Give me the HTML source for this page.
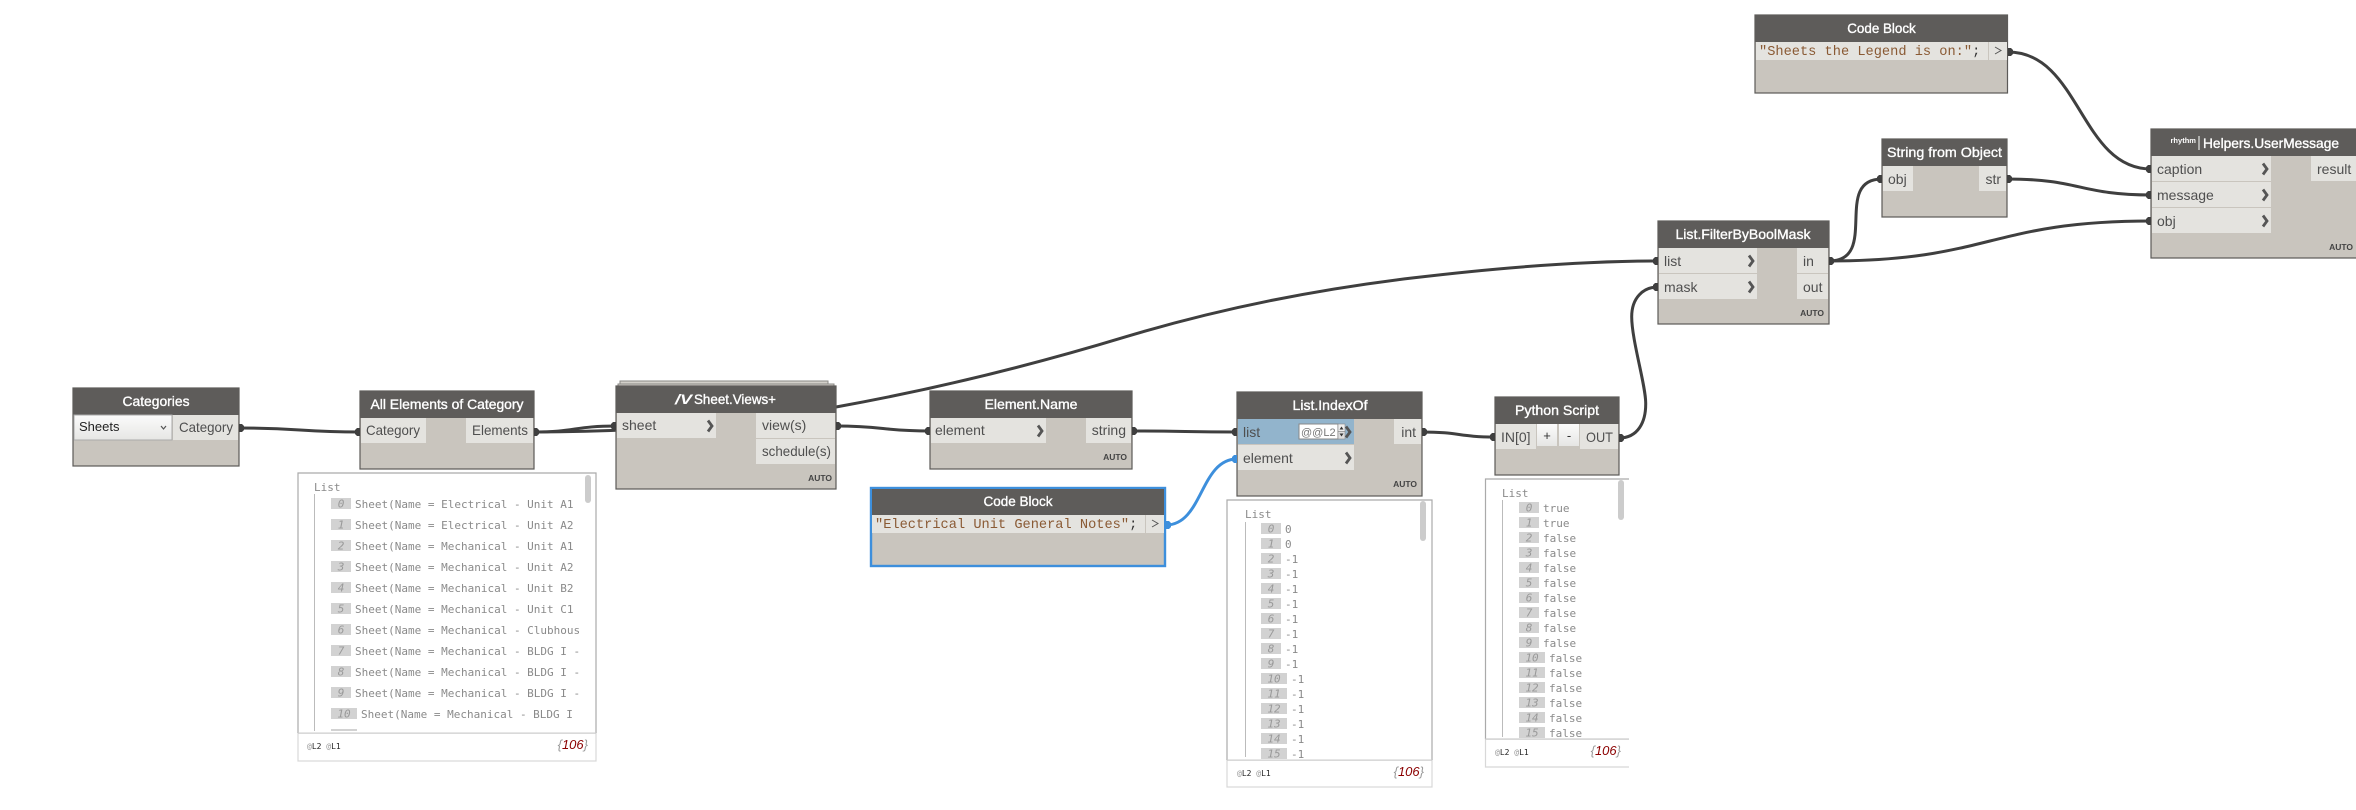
<!DOCTYPE html>
<html><head><meta charset="utf-8"><title>Dynamo graph</title>
<style>
html,body{margin:0;padding:0;background:#fff;width:2356px;height:810px;overflow:hidden}
svg{display:block}
text{font-family:"Liberation Sans",sans-serif}
.h{fill:#fff;stroke:#fff;stroke-width:.35;font-size:14px;text-anchor:middle}
.hs{fill:#fff;stroke:#fff;stroke-width:.35;font-size:14px}
.p{fill:#4f4f4f;font-size:14px}
.r{fill:#4f4f4f;font-size:14px;text-anchor:end}
.a{fill:#444;font-size:8.5px;font-weight:bold;text-anchor:end}
.n{fill:#c9c5be;stroke:#5c5a58;stroke-width:1.2}
.t{fill:#5e5c5a}
.q{fill:#e4e3df}
.c{fill:none;stroke:#555;stroke-width:2.8}
.w{fill:none;stroke:#3f3f3f;stroke-width:3}
.d{fill:#3f3f3f}
.m,.i,.l{font-family:"DejaVu Sans Mono",monospace;font-size:11px;fill:#8a8a8a}
.i{font-style:italic;text-anchor:middle;fill:#999}
.b{fill:#d2d2d2}
.code{font-family:"Liberation Mono",monospace;font-size:13.67px;fill:#8a5a34}
.f{font-family:"DejaVu Sans Mono",monospace;font-size:8px;fill:#222}
.f tspan{fill:#999}
.k{font-size:13px;font-style:italic;fill:#999;text-anchor:end}
.k tspan{fill:#8b0000}
.bd{fill:#fff;stroke:#aaa;stroke-width:1.2}
.ln{fill:#ccc}
</style></head><body>
<svg width="2356" height="810" viewBox="0 0 2356 810" xmlns="http://www.w3.org/2000/svg">
<defs><linearGradient id="g" x1="0" y1="0" x2="0" y2="1"><stop offset="0" stop-color="#fbfbfb"/><stop offset="1" stop-color="#e6e6e4"/></linearGradient></defs>

<!-- wires -->
<path class="w" d="M239 428C300 428 300 432 360 432"/>
<path class="w" d="M534 432C575 432 575 426 616 426"/>
<path class="w" d="M534 432C635 432 736 425 836 407C932.700 389.600 1029.300 366 1126 336.700C1221.300 308.100 1316.700 289.400 1412 278C1494 268.200 1576 261 1658 261"/>
<path class="w" d="M836 426C883 426 883 431 930 431"/>
<path class="w" d="M1132 431C1185 431 1185 432 1237 432"/>
<path class="w" d="M1422 432C1460 432 1458 437 1495 437"/>
<path class="w" d="M1619 438C1638 438 1646 422 1645.700 403C1645.700 385 1631.700 340 1631.700 316.700C1631.700 298 1643 287 1658 287"/>
<path class="w" d="M1829 261C1880 261 1832 179 1882 179"/>
<path class="w" d="M1829 261C1990 261 1990 221 2151 221"/>
<path class="w" d="M2007 179C2080 179 2080 195 2151 195"/>
<path class="w" d="M2008 52C2080 52 2080 169 2151 169"/>
<path d="M1166 525C1203 525 1200 459 1237 459" fill="none" stroke="#3d8fdc" stroke-width="3"/>

<!-- Categories -->
<rect class="n" x="73" y="388" width="166" height="78"/><rect class="t" x="73" y="388" width="166" height="27"/>
<text class="h" x="156" y="406" textLength="67" lengthAdjust="spacingAndGlyphs">Categories</text>
<rect x="74" y="415" width="98" height="25" fill="url(#g)" stroke="#aaa"/>
<text x="79" y="431" font-size="13" fill="#222">Sheets</text>
<polyline points="161,426 163.500,429 166,426" fill="none" stroke="#555" stroke-width="1.200"/>
<rect class="q" x="173" y="415" width="65" height="25"/>
<text class="p" x="179" y="432" textLength="54" lengthAdjust="spacingAndGlyphs">Category</text>

<!-- All Elements -->
<rect class="n" x="360" y="391" width="174" height="78"/><rect class="t" x="360" y="391" width="174" height="27"/>
<text class="h" x="447" y="409" textLength="153" lengthAdjust="spacingAndGlyphs">All Elements of Category</text>
<rect class="q" x="361" y="418" width="65" height="25"/><rect class="q" x="466" y="418" width="67" height="25"/>
<text class="p" x="366" y="435" textLength="54" lengthAdjust="spacingAndGlyphs">Category</text>
<text class="p" x="472" y="435" textLength="56" lengthAdjust="spacingAndGlyphs">Elements</text>

<!-- Sheet.Views+ -->
<rect x="620" y="381" width="208" height="8" fill="#d3d0ca" stroke="#8a8884" stroke-width="1"/>
<rect x="618" y="384" width="216" height="6" fill="#d3d0ca" stroke="#8a8884" stroke-width="1"/>
<rect class="n" x="616" y="386" width="220" height="103"/><rect class="t" x="616" y="386" width="220" height="27"/>
<text x="675" y="404" fill="#fff" font-size="14" font-weight="bold" font-style="italic" textLength="17" lengthAdjust="spacingAndGlyphs">/V</text>
<text class="hs" x="694" y="404" textLength="82" lengthAdjust="spacingAndGlyphs">Sheet.Views+</text>
<rect class="q" x="617" y="413" width="99" height="25"/><rect class="q" x="756" y="413" width="79" height="25"/><rect class="q" x="756" y="439" width="79" height="25"/>
<text class="p" x="622" y="430">sheet</text><polyline class="c" points="708,420.500 712,426 708,431.500"/>
<text class="p" x="762" y="430">view(s)</text>
<text class="p" x="762" y="456" textLength="69" lengthAdjust="spacingAndGlyphs">schedule(s)</text>
<text class="a" x="832" y="481">AUTO</text>

<!-- Element.Name -->
<rect class="n" x="930" y="391" width="202" height="78"/><rect class="t" x="930" y="391" width="202" height="27"/>
<text class="h" x="1031" y="409" textLength="93" lengthAdjust="spacingAndGlyphs">Element.Name</text>
<rect class="q" x="931" y="418" width="115" height="25"/><rect class="q" x="1086" y="418" width="45" height="25"/>
<text class="p" x="935" y="435">element</text><polyline class="c" points="1038,425.500 1042,431 1038,436.500"/>
<text class="r" x="1126" y="435">string</text>
<text class="a" x="1127" y="460">AUTO</text>

<!-- Code Block selected -->
<rect x="871" y="488" width="294" height="78" fill="#c9c5be" stroke="#3d8fdc" stroke-width="2.400"/>
<rect class="t" x="872" y="489" width="292" height="26"/>
<text class="h" x="1018" y="506" textLength="69" lengthAdjust="spacingAndGlyphs">Code Block</text>
<rect class="q" x="872" y="515" width="273" height="18"/><rect class="q" x="1146" y="515" width="18" height="18"/>
<text class="code" x="875" y="528">"Electrical Unit General Notes"<tspan fill="#333">;</tspan></text>
<polyline points="1152,520 1158,523.500 1152,527" fill="none" stroke="#555" stroke-width="1"/>

<!-- List.IndexOf -->
<rect class="n" x="1237" y="392" width="185" height="104"/><rect class="t" x="1237" y="392" width="185" height="27"/>
<text class="h" x="1330" y="410" textLength="75" lengthAdjust="spacingAndGlyphs">List.IndexOf</text>
<rect x="1238" y="419" width="116" height="25" fill="#92b4cc"/><rect class="q" x="1238" y="445" width="116" height="25"/><rect class="q" x="1394" y="419" width="27" height="25"/>
<text class="p" x="1243" y="437">list</text><text class="p" x="1243" y="463">element</text>
<rect x="1299" y="424" width="39" height="15" fill="#fff" stroke="#888"/>
<text x="1301" y="436" font-size="11" fill="#777">@@L2</text>
<rect x="1338" y="424" width="7" height="7.500" fill="#eee" stroke="#888" stroke-width=".6"/><rect x="1338" y="431.500" width="7" height="7.500" fill="#ddd" stroke="#888" stroke-width=".6"/>
<path d="M1339.500 429.500l2-3 2 3zM1339.500 433.500l2 3 2-3z" fill="#333"/>
<polyline class="c" points="1346,426.500 1350,432 1346,437.500"/><polyline class="c" points="1346,452.500 1350,458 1346,463.500"/>
<text class="r" x="1416" y="437">int</text>
<text class="a" x="1417" y="487">AUTO</text>

<!-- Python Script -->
<rect class="n" x="1495" y="397" width="124" height="78"/><rect class="t" x="1495" y="397" width="124" height="27"/>
<text class="h" x="1557" y="415" textLength="84" lengthAdjust="spacingAndGlyphs">Python Script</text>
<rect class="q" x="1496" y="424" width="40" height="25"/><rect x="1537" y="424" width="20" height="22" fill="url(#g)"/><rect x="1559" y="424" width="20" height="22" fill="url(#g)"/><rect class="q" x="1580" y="424" width="38" height="25"/>
<text class="p" x="1501" y="442">IN[0]</text><text x="1547" y="440" font-size="13" fill="#333" text-anchor="middle">+</text><text x="1569" y="440" font-size="13" fill="#333" text-anchor="middle">-</text>
<text class="p" x="1586" y="442" textLength="27" lengthAdjust="spacingAndGlyphs">OUT</text>

<!-- List.FilterByBoolMask -->
<rect class="n" x="1658" y="221" width="171" height="103"/><rect class="t" x="1658" y="221" width="171" height="27"/>
<text class="h" x="1743" y="239" textLength="135" lengthAdjust="spacingAndGlyphs">List.FilterByBoolMask</text>
<rect class="q" x="1659" y="248" width="98" height="25"/><rect class="q" x="1659" y="274" width="98" height="25"/><rect class="q" x="1797" y="248" width="31" height="25"/><rect class="q" x="1797" y="274" width="31" height="25"/>
<text class="p" x="1664" y="266">list</text><text class="p" x="1664" y="292">mask</text>
<polyline class="c" points="1749,255.500 1753,261 1749,266.500"/><polyline class="c" points="1749,281.500 1753,287 1749,292.500"/>
<text class="p" x="1803" y="266">in</text><text class="p" x="1803" y="292">out</text>
<text class="a" x="1824" y="316">AUTO</text>

<!-- String from Object -->
<rect class="n" x="1882" y="139" width="125" height="78"/><rect class="t" x="1882" y="139" width="125" height="27"/>
<text class="h" x="1944.500" y="157" textLength="115" lengthAdjust="spacingAndGlyphs">String from Object</text>
<rect class="q" x="1883" y="166" width="30" height="25"/><rect class="q" x="1979" y="166" width="27" height="25"/>
<text class="p" x="1888" y="184">obj</text><text class="r" x="2001" y="184">str</text>

<!-- Code Block 2 -->
<rect class="n" x="1755" y="15" width="252.500" height="78"/><rect class="t" x="1755" y="15" width="252.500" height="27"/>
<text class="h" x="1881.500" y="33" textLength="68.500" lengthAdjust="spacingAndGlyphs">Code Block</text>
<rect class="q" x="1756" y="42" width="232" height="18"/><rect class="q" x="1989" y="42" width="18" height="18"/>
<text class="code" x="1759" y="55">"Sheets the Legend is on:"<tspan fill="#333">;</tspan></text>
<polyline points="1995,47 2001,50.500 1995,54" fill="none" stroke="#555" stroke-width="1"/>

<!-- Helpers.UserMessage -->
<rect class="n" x="2151" y="129" width="220" height="129"/><rect class="t" x="2151" y="129" width="220" height="27"/>
<text x="2170.500" y="143" fill="#fff" font-size="7.500" font-weight="bold" textLength="25.500" lengthAdjust="spacingAndGlyphs">rhythm</text>
<rect x="2198.500" y="136" width="1" height="14" fill="#fff"/>
<text class="hs" x="2203" y="148" textLength="136" lengthAdjust="spacingAndGlyphs">Helpers.UserMessage</text>
<rect class="q" x="2152" y="156" width="119" height="25"/><rect class="q" x="2152" y="182" width="119" height="25"/><rect class="q" x="2152" y="208" width="119" height="25"/><rect class="q" x="2311" y="156" width="45" height="25"/>
<text class="p" x="2157" y="174">caption</text><text class="p" x="2157" y="200">message</text><text class="p" x="2157" y="226">obj</text>
<polyline class="c" points="2263,163.500 2267,169 2263,174.500"/><polyline class="c" points="2263,189.500 2267,195 2263,200.500"/><polyline class="c" points="2263,215.500 2267,221 2263,226.500"/>
<text class="p" x="2317" y="174">result</text>
<text class="a" x="2353" y="250">AUTO</text>

<!-- pips -->
<path class="d" d="M239 424h3l2 2v4l-2 2h-3zM360 428h-3l-2 2v4l2 2h3zM534 428h3l2 2v4l-2 2h-3zM616 422h-3l-2 2v4l2 2h3zM836 422h3l2 2v4l-2 2h-3zM930 427h-3l-2 2v4l2 2h3zM1132 427h3l2 2v4l-2 2h-3zM1237 428h-3l-2 2v4l2 2h3zM1422 428h3l2 2v4l-2 2h-3zM1495 433h-3l-2 2v4l2 2h3zM1619 434h3l2 2v4l-2 2h-3zM1658 257h-3l-2 2v4l2 2h3zM1658 283h-3l-2 2v4l2 2h3zM1829 257h3l2 2v4l-2 2h-3zM1882 175h-3l-2 2v4l2 2h3zM2007 175h3l2 2v4l-2 2h-3zM2008 48h3l2 2v4l-2 2h-3zM2151 165h-3l-2 2v4l2 2h3zM2151 191h-3l-2 2v4l2 2h3zM2151 217h-3l-2 2v4l2 2h3z"/>
<path fill="#3d8fdc" d="M1237 455h-3l-2 2v4l2 2h3zM1166 521h3l2 2v4l-2 2h-3z"/>

<!-- Watch 1 -->
<rect x="298" y="733" width="298" height="28" fill="#fff" stroke="#d8d8d8" stroke-width="1.200"/>
<path d="M298 733V473H596V733" fill="#fff" stroke="#aaa" stroke-width="1.200"/>
<rect class="ln" x="298" y="732.500" width="298" height="1.200"/>
<rect x="585" y="475" width="6" height="28" rx="3" fill="#ccc"/>
<text class="l" x="314" y="491">List</text>
<rect x="314" y="494" width="1" height="237" fill="#bbb"/>
<rect class="b" x="331" y="498" width="20" height="11"/><text class="i" x="341" y="507.500">0</text><text class="m" x="355" y="508">Sheet(Name = Electrical - Unit A1</text>
<rect class="b" x="331" y="519" width="20" height="11"/><text class="i" x="341" y="528.500">1</text><text class="m" x="355" y="529">Sheet(Name = Electrical - Unit A2</text>
<rect class="b" x="331" y="540" width="20" height="11"/><text class="i" x="341" y="549.500">2</text><text class="m" x="355" y="550">Sheet(Name = Mechanical - Unit A1</text>
<rect class="b" x="331" y="561" width="20" height="11"/><text class="i" x="341" y="570.500">3</text><text class="m" x="355" y="571">Sheet(Name = Mechanical - Unit A2</text>
<rect class="b" x="331" y="582" width="20" height="11"/><text class="i" x="341" y="591.500">4</text><text class="m" x="355" y="592">Sheet(Name = Mechanical - Unit B2</text>
<rect class="b" x="331" y="603" width="20" height="11"/><text class="i" x="341" y="612.500">5</text><text class="m" x="355" y="613">Sheet(Name = Mechanical - Unit C1</text>
<rect class="b" x="331" y="624" width="20" height="11"/><text class="i" x="341" y="633.500">6</text><text class="m" x="355" y="634">Sheet(Name = Mechanical - Clubhous</text>
<rect class="b" x="331" y="645" width="20" height="11"/><text class="i" x="341" y="654.500">7</text><text class="m" x="355" y="655">Sheet(Name = Mechanical - BLDG I -</text>
<rect class="b" x="331" y="666" width="20" height="11"/><text class="i" x="341" y="675.500">8</text><text class="m" x="355" y="676">Sheet(Name = Mechanical - BLDG I -</text>
<rect class="b" x="331" y="687" width="20" height="11"/><text class="i" x="341" y="696.500">9</text><text class="m" x="355" y="697">Sheet(Name = Mechanical - BLDG I -</text>
<rect class="b" x="331" y="708" width="26" height="11"/><text class="i" x="344" y="717.500">10</text><text class="m" x="361" y="718">Sheet(Name = Mechanical - BLDG I</text>
<rect class="b" x="331" y="729" width="26" height="2"/>
<text class="f" x="307" y="749"><tspan>@</tspan>L2 <tspan>@</tspan>L1</text>
<text class="k" x="588" y="749">{<tspan>106</tspan>}</text>

<!-- Watch 2 -->
<rect x="1227" y="760" width="205" height="27" fill="#fff" stroke="#d8d8d8" stroke-width="1.200"/>
<path d="M1227 760V500H1432V760" fill="#fff" stroke="#aaa" stroke-width="1.200"/>
<rect class="ln" x="1227" y="759.500" width="205" height="1.200"/>
<rect x="1420" y="501" width="6" height="40" rx="3" fill="#ccc"/>
<text class="l" x="1245" y="518">List</text>
<rect x="1245" y="522" width="1" height="235" fill="#bbb"/>
<rect class="b" x="1261" y="523" width="20" height="11"/><text class="i" x="1271" y="532.500">0</text><text class="m" x="1285" y="533">0</text>
<rect class="b" x="1261" y="538" width="20" height="11"/><text class="i" x="1271" y="547.500">1</text><text class="m" x="1285" y="548">0</text>
<rect class="b" x="1261" y="553" width="20" height="11"/><text class="i" x="1271" y="562.500">2</text><text class="m" x="1285" y="563">-1</text>
<rect class="b" x="1261" y="568" width="20" height="11"/><text class="i" x="1271" y="577.500">3</text><text class="m" x="1285" y="578">-1</text>
<rect class="b" x="1261" y="583" width="20" height="11"/><text class="i" x="1271" y="592.500">4</text><text class="m" x="1285" y="593">-1</text>
<rect class="b" x="1261" y="598" width="20" height="11"/><text class="i" x="1271" y="607.500">5</text><text class="m" x="1285" y="608">-1</text>
<rect class="b" x="1261" y="613" width="20" height="11"/><text class="i" x="1271" y="622.500">6</text><text class="m" x="1285" y="623">-1</text>
<rect class="b" x="1261" y="628" width="20" height="11"/><text class="i" x="1271" y="637.500">7</text><text class="m" x="1285" y="638">-1</text>
<rect class="b" x="1261" y="643" width="20" height="11"/><text class="i" x="1271" y="652.500">8</text><text class="m" x="1285" y="653">-1</text>
<rect class="b" x="1261" y="658" width="20" height="11"/><text class="i" x="1271" y="667.500">9</text><text class="m" x="1285" y="668">-1</text>
<rect class="b" x="1261" y="673" width="26" height="11"/><text class="i" x="1274" y="682.500">10</text><text class="m" x="1291" y="683">-1</text>
<rect class="b" x="1261" y="688" width="26" height="11"/><text class="i" x="1274" y="697.500">11</text><text class="m" x="1291" y="698">-1</text>
<rect class="b" x="1261" y="703" width="26" height="11"/><text class="i" x="1274" y="712.500">12</text><text class="m" x="1291" y="713">-1</text>
<rect class="b" x="1261" y="718" width="26" height="11"/><text class="i" x="1274" y="727.500">13</text><text class="m" x="1291" y="728">-1</text>
<rect class="b" x="1261" y="733" width="26" height="11"/><text class="i" x="1274" y="742.500">14</text><text class="m" x="1291" y="743">-1</text>
<rect class="b" x="1261" y="748" width="26" height="11"/><text class="i" x="1274" y="757.500">15</text><text class="m" x="1291" y="758">-1</text>
<text class="f" x="1237" y="776"><tspan>@</tspan>L2 <tspan>@</tspan>L1</text>
<text class="k" x="1424" y="776">{<tspan>106</tspan>}</text>

<!-- Watch 3 -->
<path d="M1629 739H1485.500V767H1629" fill="#fff" stroke="#d8d8d8" stroke-width="1.200"/>
<path d="M1629 479H1485.500V739" fill="#fff" stroke="#aaa" stroke-width="1.200"/>
<rect class="ln" x="1485" y="738.500" width="144" height="1.200"/>
<rect x="1618" y="480" width="6" height="40" rx="3" fill="#ccc"/>
<text class="l" x="1502" y="497">List</text>
<rect x="1502" y="500" width="1" height="237" fill="#bbb"/>
<rect class="b" x="1519" y="502" width="20" height="11"/><text class="i" x="1529" y="511.500">0</text><text class="m" x="1543" y="512">true</text>
<rect class="b" x="1519" y="517" width="20" height="11"/><text class="i" x="1529" y="526.500">1</text><text class="m" x="1543" y="527">true</text>
<rect class="b" x="1519" y="532" width="20" height="11"/><text class="i" x="1529" y="541.500">2</text><text class="m" x="1543" y="542">false</text>
<rect class="b" x="1519" y="547" width="20" height="11"/><text class="i" x="1529" y="556.500">3</text><text class="m" x="1543" y="557">false</text>
<rect class="b" x="1519" y="562" width="20" height="11"/><text class="i" x="1529" y="571.500">4</text><text class="m" x="1543" y="572">false</text>
<rect class="b" x="1519" y="577" width="20" height="11"/><text class="i" x="1529" y="586.500">5</text><text class="m" x="1543" y="587">false</text>
<rect class="b" x="1519" y="592" width="20" height="11"/><text class="i" x="1529" y="601.500">6</text><text class="m" x="1543" y="602">false</text>
<rect class="b" x="1519" y="607" width="20" height="11"/><text class="i" x="1529" y="616.500">7</text><text class="m" x="1543" y="617">false</text>
<rect class="b" x="1519" y="622" width="20" height="11"/><text class="i" x="1529" y="631.500">8</text><text class="m" x="1543" y="632">false</text>
<rect class="b" x="1519" y="637" width="20" height="11"/><text class="i" x="1529" y="646.500">9</text><text class="m" x="1543" y="647">false</text>
<rect class="b" x="1519" y="652" width="26" height="11"/><text class="i" x="1532" y="661.500">10</text><text class="m" x="1549" y="662">false</text>
<rect class="b" x="1519" y="667" width="26" height="11"/><text class="i" x="1532" y="676.500">11</text><text class="m" x="1549" y="677">false</text>
<rect class="b" x="1519" y="682" width="26" height="11"/><text class="i" x="1532" y="691.500">12</text><text class="m" x="1549" y="692">false</text>
<rect class="b" x="1519" y="697" width="26" height="11"/><text class="i" x="1532" y="706.500">13</text><text class="m" x="1549" y="707">false</text>
<rect class="b" x="1519" y="712" width="26" height="11"/><text class="i" x="1532" y="721.500">14</text><text class="m" x="1549" y="722">false</text>
<rect class="b" x="1519" y="727" width="26" height="11"/><text class="i" x="1532" y="736.500">15</text><text class="m" x="1549" y="737">false</text>
<text class="f" x="1495" y="755"><tspan>@</tspan>L2 <tspan>@</tspan>L1</text>
<text class="k" x="1621" y="755">{<tspan>106</tspan>}</text>
</svg>
</body></html>
